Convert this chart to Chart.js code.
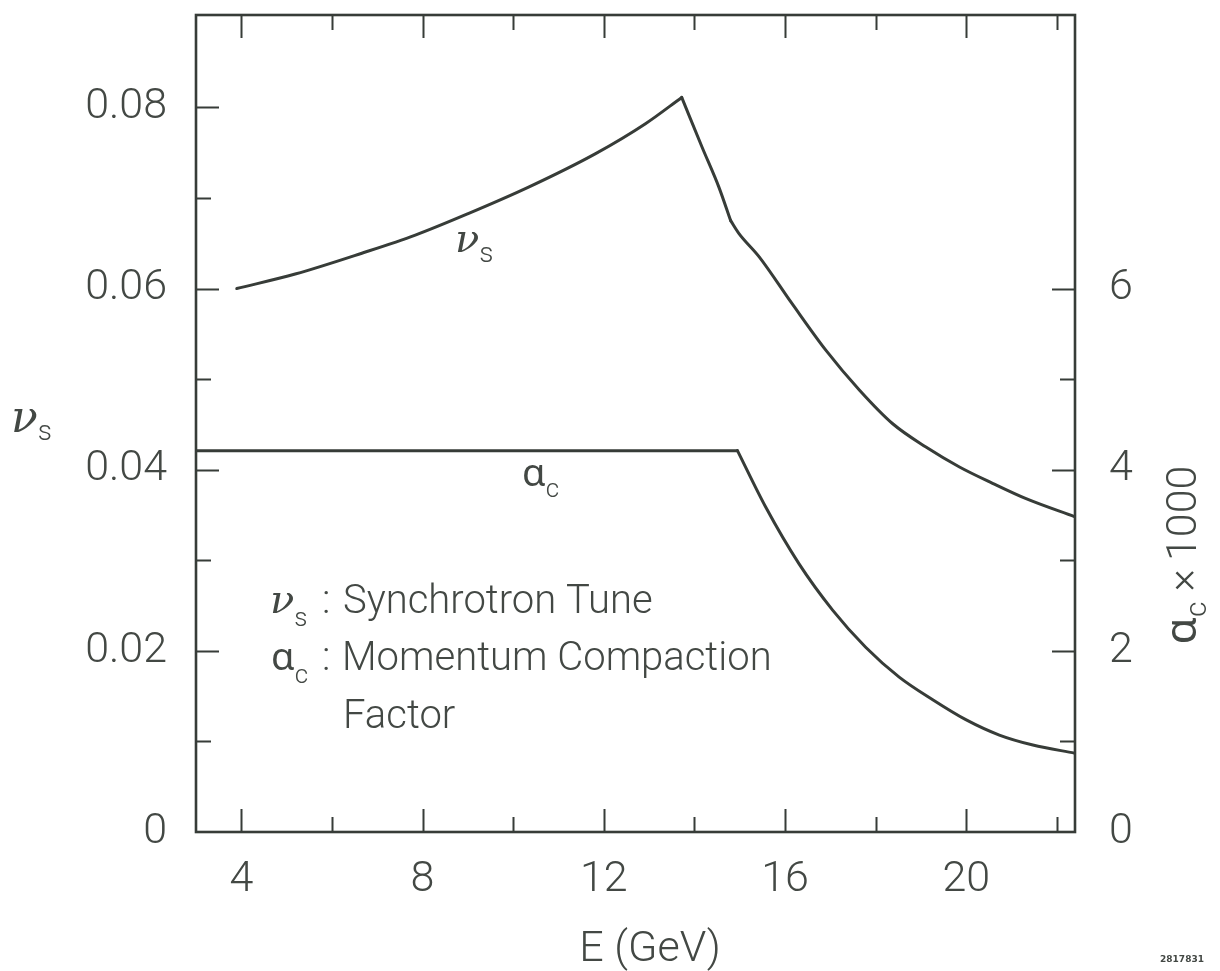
<!DOCTYPE html>
<html>
<head>
<meta charset="utf-8">
<script src="https://cdn.jsdelivr.net/npm/chart.js@4.4.0/dist/chart.umd.min.js"></script>
<style>
  html, body { margin: 0; padding: 0; background: #ffffff; }
  canvas { display: block; }
</style>
</head>
<body>
<canvas id="chart" width="1220" height="971"></canvas>
<script>
// Synchrotron tune versus beam energy (GeV)
const nuEnergy = [3.9, 5.19, 6.66, 7.84, 9.02, 10.34, 11.82, 12.92, 13.72, 14.17, 14.54, 14.80, 14.98, 15.43, 16.16, 16.90, 17.64, 18.37, 19.11, 19.85, 20.58, 21.32, 22.4];
const nuTune   = [0.0600, 0.0616, 0.0639, 0.0659, 0.0683, 0.0712, 0.0749, 0.0782, 0.0811, 0.0756, 0.0712, 0.0675, 0.0661, 0.0635, 0.0583, 0.0532, 0.0488, 0.0451, 0.0425, 0.0403, 0.0385, 0.0368, 0.0348];
// indices where the tune curve has a corner (peak, then the kink after the steep drop)
const nuCorners = [8, 11];

// Momentum compaction factor (x 1000) versus beam energy (GeV)
const alphaEnergy = [3.0, 14.95, 15.57, 16.31, 17.05, 17.78, 18.52, 19.26, 19.99, 20.73, 21.47, 22.4];
const alphaC      = [4.21, 4.21, 3.59, 2.96, 2.45, 2.04, 1.71, 1.46, 1.24, 1.07, 0.96, 0.87];
const alphaCorners = [1];

// Axis ticks
const energyLabels = [4, 8, 12, 16, 20];
const energyMinor  = [6, 10, 14, 18, 22];
const nuLabels     = [0, 0.02, 0.04, 0.06, 0.08];
const nuMinor      = [0.01, 0.03, 0.05, 0.07];
const alphaLabels  = [0, 2, 4, 6];
const alphaMinor   = [1, 3, 5];

const INK = '#373c38';
const TEXT = '#434844';
const LIGHT = '300 43px Roboto, "DejaVu Sans", sans-serif';

function pts(xs, ys) { return xs.map((x, i) => ({ x: x, y: ys[i] })); }

// Split a curve into smooth pieces that meet at its corners
function pieces(xs, ys, corners) {
  const cuts = [0].concat(corners, [xs.length - 1]);
  const out = [];
  for (let i = 0; i < cuts.length - 1; i++) {
    out.push(pts(xs.slice(cuts[i], cuts[i + 1] + 1), ys.slice(cuts[i], cuts[i + 1] + 1)));
  }
  return out;
}

// Draws a run of text pieces (main text, subscripts) starting at x along the baseline
function drawRuns(ctx, runs, x, y) {
  let cx = x;
  for (const r of runs) {
    ctx.font = r.font;
    ctx.fillText(r.text, cx + (r.dx || 0), y + (r.dy || 0));
    cx += ctx.measureText(r.text).width + (r.dx || 0) + (r.gap || 0);
  }
  return cx;
}
function runsWidth(ctx, runs) {
  let w = 0;
  for (const r of runs) { ctx.font = r.font; w += ctx.measureText(r.text).width + (r.dx || 0) + (r.gap || 0); }
  return w;
}

const NU = (size) => 'italic ' + size + 'px "DejaVu Serif", serif';
const ALPHA = (size) => size + 'px "Noto Sans", "DejaVu Sans", sans-serif';
const SUB = (size) => '300 ' + size + 'px Roboto, "DejaVu Sans", sans-serif';

// Inward tick marks on all four sides plus the box frame
const frameAndTicks = {
  id: 'frameAndTicks',
  afterDatasetsDraw(chart) {
    const { ctx, chartArea: a, scales } = chart;
    const MAJ = 23, MIN = 15;
    ctx.save();
    ctx.strokeStyle = INK;
    ctx.lineWidth = 2;
    ctx.beginPath();
    const xt = energyLabels.map(v => [v, MAJ]).concat(energyMinor.map(v => [v, MIN]));
    for (const [v, len] of xt) {
      const px = Math.round(scales.x.getPixelForValue(v)) + 0.5;
      ctx.moveTo(px, a.bottom); ctx.lineTo(px, a.bottom - len);
      ctx.moveTo(px, a.top); ctx.lineTo(px, a.top + len);
    }
    const yl = nuLabels.filter(v => v > 0).map(v => [v, MAJ]).concat(nuMinor.map(v => [v, MIN]));
    for (const [v, len] of yl) {
      const py = Math.round(scales.y.getPixelForValue(v)) + 0.5;
      ctx.moveTo(a.left, py); ctx.lineTo(a.left + len, py);
    }
    const yr = alphaLabels.filter(v => v > 0).map(v => [v, MAJ]).concat(alphaMinor.map(v => [v, MIN]));
    for (const [v, len] of yr) {
      const py = Math.round(scales.y2.getPixelForValue(v)) + 0.5;
      ctx.moveTo(a.right, py); ctx.lineTo(a.right - len, py);
    }
    ctx.stroke();
    ctx.lineWidth = 2.6;
    ctx.strokeRect(a.left, a.top, a.right - a.left, a.bottom - a.top);
    ctx.restore();
  }
};

// Axis titles, curve labels and the key
const annotations = {
  id: 'annotations',
  afterDraw(chart) {
    const { ctx } = chart;
    ctx.save();
    ctx.fillStyle = TEXT;
    ctx.textAlign = 'left';
    ctx.textBaseline = 'alphabetic';

    // left axis title
    drawRuns(ctx, [{ text: 'ν', font: NU(44) }, { text: 's', font: SUB(28), dy: 8 }], 11, 432);

    // x axis title
    ctx.font = LIGHT;
    ctx.textAlign = 'center';
    ctx.fillText('E (GeV)', 650, 961);
    ctx.textAlign = 'left';

    // right axis title, rotated
    const rt = [
      { text: 'α', font: ALPHA(44) },
      { text: 'c', font: SUB(30), dy: 10, gap: 10 },
      { text: '×', font: LIGHT, gap: 8 },
      { text: '1000', font: LIGHT }
    ];
    ctx.save();
    ctx.translate(1196, 555);
    ctx.rotate(-Math.PI / 2);
    drawRuns(ctx, rt, -runsWidth(ctx, rt) / 2, 0);
    ctx.restore();

    // curve labels
    drawRuns(ctx, [{ text: 'ν', font: NU(40) }, { text: 's', font: SUB(28), dy: 10 }], 455, 252);
    drawRuns(ctx, [{ text: 'α', font: ALPHA(38) }, { text: 'c', font: SUB(26), dy: 11 }], 522, 486);

    // key
    const KEY = '300 40px Roboto, "DejaVu Sans", sans-serif';
    drawRuns(ctx, [{ text: 'ν', font: NU(40) }, { text: 's', font: SUB(26), dy: 13 }], 270, 613);
    ctx.font = KEY;
    ctx.fillText(':', 322, 613);
    ctx.fillText('Synchrotron Tune', 343, 613);
    drawRuns(ctx, [{ text: 'α', font: ALPHA(38) }, { text: 'c', font: SUB(26), dy: 13 }], 271, 670);
    ctx.font = KEY;
    ctx.fillText(':', 322, 670);
    ctx.fillText('Momentum Compaction', 342, 670);
    ctx.fillText('Factor', 343, 728);

    // figure number
    ctx.font = 'bold 9px "DejaVu Sans", sans-serif';
    ctx.textAlign = 'center';
    ctx.fillText('2817831', 1182, 962);
    ctx.restore();
  }
};

const lineStyle = {
  borderColor: INK,
  borderWidth: 3,
  pointRadius: 0,
  cubicInterpolationMode: 'monotone',
  fill: false,
  borderJoinStyle: 'round',
  borderCapStyle: 'round'
};

const datasets = [];
pieces(nuEnergy, nuTune, nuCorners).forEach(d => datasets.push(Object.assign({ label: 'ν_s', data: d, yAxisID: 'y' }, lineStyle)));
pieces(alphaEnergy, alphaC, alphaCorners).forEach(d => datasets.push(Object.assign({ label: 'α_c × 1000', data: d, yAxisID: 'y2' }, lineStyle)));

const tickFont = { family: 'Roboto', weight: '300', size: 43 };

new Chart(document.getElementById('chart'), {
  type: 'line',
  data: { datasets: datasets },
  options: {
    responsive: false,
    animation: false,
    layout: { padding: { top: 15, left: 0, right: 0, bottom: 0 } },
    plugins: { legend: { display: false }, tooltip: { enabled: false } },
    scales: {
      x: {
        type: 'linear', min: 3, max: 22.4,
        grid: { display: false, drawTicks: false },
        border: { display: false },
        afterBuildTicks: s => { s.ticks = energyLabels.map(v => ({ value: v })); },
        afterFit: s => { s.height = 139; s.paddingLeft = 0; s.paddingRight = 0; },
        ticks: { font: tickFont, color: TEXT, padding: 22, maxRotation: 0, autoSkip: false,
                 callback: v => String(v) }
      },
      y: {
        type: 'linear', position: 'left', min: 0, max: 0.0902,
        grid: { display: false, drawTicks: false },
        border: { display: false },
        afterBuildTicks: s => { s.ticks = nuLabels.map(v => ({ value: v })); },
        afterFit: s => { s.width = 196; s.paddingTop = 0; s.paddingBottom = 0; },
        ticks: { font: tickFont, color: TEXT, padding: 29, autoSkip: false,
                 callback: v => v === 0 ? '0' : v.toFixed(2) }
      },
      y2: {
        type: 'linear', position: 'right', min: 0, max: 9.02,
        grid: { display: false, drawTicks: false },
        border: { display: false },
        afterBuildTicks: s => { s.ticks = alphaLabels.map(v => ({ value: v })); },
        afterFit: s => { s.width = 145; s.paddingTop = 0; s.paddingBottom = 0; },
        ticks: { font: tickFont, color: TEXT, padding: 34, autoSkip: false,
                 callback: v => String(v) }
      }
    }
  },
  plugins: [frameAndTicks, annotations]
});
</script>
</body>
</html>
